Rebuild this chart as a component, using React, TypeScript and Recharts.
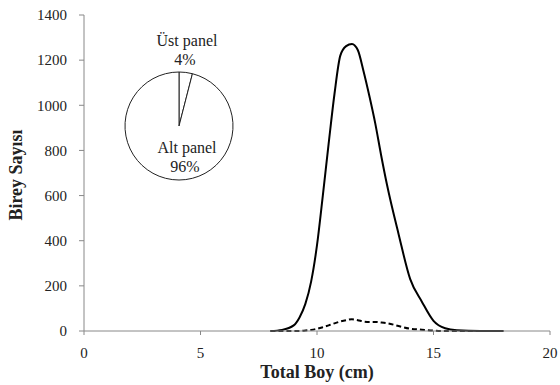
import React from "react";
import { LineChart, Line, XAxis, YAxis, PieChart, Pie, Cell } from "recharts";

const lengthsCm = [8, 8.5, 9, 9.25, 9.5, 9.75, 10, 10.25, 10.5, 10.75, 11, 11.25, 11.5, 11.75, 12, 12.25, 12.5, 12.75, 13, 13.5, 14, 14.5, 15, 15.5, 16, 17, 18];
const altPanel = [0, 5, 25, 60, 120, 220, 380, 600, 830, 1050, 1220, 1262, 1272, 1245, 1150, 1040, 920, 780, 650, 430, 230, 130, 45, 12, 3, 0, 0];
const ustPanel = [0, 0, 0, 0, 2, 5, 10, 17, 25, 34, 42, 48, 52, 48, 42, 40, 40, 38, 35, 22, 10, 6, 2, 0, 0, 0, 0];
const xTicks = [0, 5, 10, 15, 20];
const yTicks = [0, 200, 400, 600, 800, 1000, 1200, 1400];
const pieNames = ["Üst panel", "Alt panel"];
const pieValues = [4, 96];

const data = lengthsCm.map((x, i) => ({ x, alt: altPanel[i], ust: ustPanel[i] }));
const pieData = pieNames.map((name, i) => ({ name, value: pieValues[i] }));

const FONT = "'Liberation Serif', 'Times New Roman', serif";
const tickStyle = { fontFamily: FONT, fontSize: 15, fill: "#222" };
const titleStyle = { fontFamily: FONT, fontSize: 18, fontWeight: "bold", fill: "#222" };

const renderPieLabel = (props: any) => {
  const { cx, cy, index, name, percent } = props;
  const pct = `${Math.round(percent * 100)}%`;
  const top = index === 0;
  const y1 = top ? cy - 86 : cy + 21;
  const y2 = top ? cy - 67 : cy + 40;
  return (
    <g>
      <text x={cx + 8} y={y1} textAnchor="middle" dominantBaseline="central" style={{ fontFamily: FONT, fontSize: 16 }} fill="#222">
        {name}
      </text>
      <text x={cx + 6} y={y2} textAnchor="middle" dominantBaseline="central" style={{ fontFamily: FONT, fontSize: 16 }} fill="#222">
        {pct}
      </text>
    </g>
  );
};

export default function App() {
  return (
    <div style={{ position: "absolute", left: 0, top: 0, width: 560, height: 385, background: "#fff" }}>
      <LineChart width={560} height={385} data={data} margin={{ top: 15, right: 10, bottom: 0, left: 24 }}>
        <XAxis
          dataKey="x"
          type="number"
          domain={[0, 20]}
          ticks={xTicks}
          interval={0}
          allowDataOverflow
          stroke="#888"
          tickSize={4}
          tickMargin={12}
          tick={tickStyle}
          height={54}
          label={{ value: "Total Boy (cm)", position: "insideBottom", offset: 7, style: titleStyle }}
        />
        <YAxis
          type="number"
          domain={[0, 1400]}
          ticks={yTicks}
          interval={0}
          stroke="#888"
          tickSize={5}
          tickMargin={12}
          tick={tickStyle}
          width={60}
          label={{ value: "Birey Sayısı", angle: -90, position: "insideLeft", offset: -8, dy: 2, style: { ...titleStyle, textAnchor: "middle" } }}
        />
        <Line type="monotone" dataKey="alt" stroke="#000" strokeWidth={2} dot={false} isAnimationActive={false} />
        <Line type="monotone" dataKey="ust" stroke="#000" strokeWidth={2} strokeDasharray="5 3" dot={false} isAnimationActive={false} />
      </LineChart>
      <div style={{ position: "absolute", left: 99, top: 19 }}>
        <PieChart width={160} height={214} margin={{ top: 0, right: 0, bottom: 0, left: 0 }}>
          <Pie
            data={pieData}
            dataKey="value"
            nameKey="name"
            cx={80}
            cy={107}
            outerRadius={54}
            startAngle={90}
            endAngle={-270}
            stroke="#222"
            strokeWidth={1}
            label={renderPieLabel}
            labelLine={false}
            isAnimationActive={false}
          >
            {pieData.map((d) => (
              <Cell key={d.name} fill="#fff" />
            ))}
          </Pie>
        </PieChart>
      </div>
    </div>
  );
}
